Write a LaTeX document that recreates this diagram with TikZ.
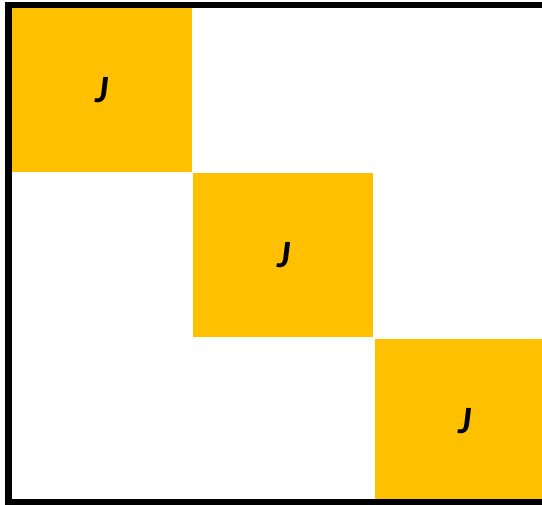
\documentclass[tikz,border=0pt]{standalone}
\usepackage{fontspec}
\setsansfont{Carlito}
\usepackage{tikz}
\usetikzlibrary{positioning}
\definecolor{blockgold}{HTML}{FFC000}
\tikzset{
  jblock/.style={rectangle, fill=blockgold, draw=none, minimum width=1.80cm,
                 minimum height=1.64cm, inner sep=0pt,
                 font=\sffamily\bfseries\itshape\fontsize{11}{13}\selectfont},
  mframe/.style={line width=1.85pt, draw=black}
}
\begin{document}
\begin{tikzpicture}
  \clip (0,0) rectangle (5.42,5.04);
  \fill[white] (0,0) rectangle (5.42,5.04);
  \node[jblock] (B1) at (1.02, 4.14) {J};
  \node[jblock, below right=0cm and 0cm of B1] (B2) {J};
  \node[jblock, below right=0cm and 0cm of B2] (B3) {J};
  \draw[mframe] (0.085,0.02) rectangle (5.56,4.99);
\end{tikzpicture}
\end{document}
